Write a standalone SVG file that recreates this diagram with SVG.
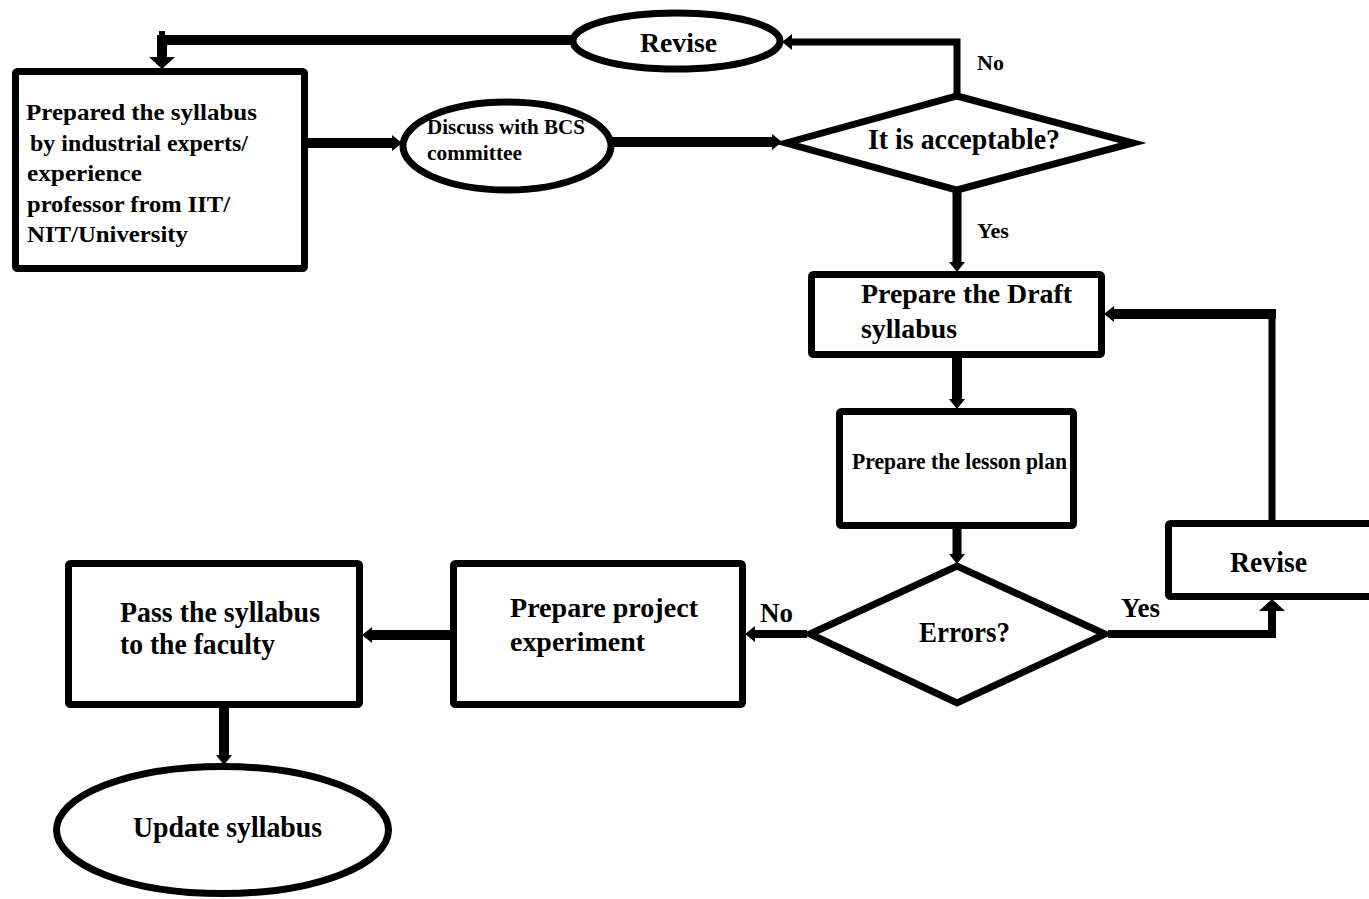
<svg xmlns="http://www.w3.org/2000/svg" width="1369" height="899" viewBox="0 0 1369 899">
<style>
.n{fill:#fff;stroke:#000;stroke-width:7;stroke-linejoin:miter}
.t{font-family:"Liberation Serif","Times New Roman",serif;font-weight:bold;fill:#000}
.c{fill:none;stroke:#000;stroke-linejoin:miter;stroke-linecap:butt}
</style>
<defs>
<marker id="ah" viewBox="0 0 10 16" refX="0" refY="8" markerWidth="10" markerHeight="16" markerUnits="userSpaceOnUse" orient="auto"><path d="M0,0 L10,8 L0,16 z" fill="#000"/></marker>
<marker id="ahb" viewBox="0 0 12 26" refX="0" refY="13" markerWidth="12" markerHeight="26" markerUnits="userSpaceOnUse" orient="auto"><path d="M0,0 L12,13 L0,26 z" fill="#000"/></marker>
</defs>
<rect width="1369" height="899" fill="#fff"/>
<g id="connectors">
<path class="c" d="M308,143 H392" stroke-width="10" marker-end="url(#ah)"/>
<path class="c" d="M611,142 H772" stroke-width="10" marker-end="url(#ah)"/>
<path class="c" d="M957,94 V42 H792" stroke-width="7" marker-end="url(#ah)"/>
<path class="c" d="M572,40 H162 V57" stroke-width="10" marker-end="url(#ahb)"/>
<path class="c" d="M162,31 V40" stroke-width="6"/>
<path class="c" d="M957,192 V262" stroke-width="9" marker-end="url(#ah)"/>
<path class="c" d="M957,358 V399" stroke-width="10" marker-end="url(#ah)"/>
<path class="c" d="M957,529 V554" stroke-width="9" marker-end="url(#ah)"/>
<path class="c" d="M1108,634 H1272 V611" stroke-width="8" marker-end="url(#ahb)"/>
<g id="revise-to-draft">
<path class="c" d="M1272,521 V314" stroke-width="7"/>
<path class="c" d="M1276,314 H1114" stroke-width="10" marker-end="url(#ah)"/>
</g>
<path class="c" d="M807,634 H755" stroke-width="8" marker-end="url(#ah)"/>
<path class="c" d="M450,635 H372" stroke-width="10" marker-end="url(#ah)"/>
<path class="c" d="M224,708 V755" stroke-width="10" marker-end="url(#ah)"/>
<text class="t" x="977" y="70" font-size="22">No</text>
<text class="t" x="977" y="238" font-size="22">Yes</text>
<text class="t" x="760" y="622" font-size="27">No</text>
<text class="t" x="1121" y="617" font-size="27">Yes</text>
</g>
<g id="prepared">
<rect class="n" x="15.5" y="71.5" width="289" height="197" rx="2"/>
<text class="t" font-size="23">
<tspan x="26" y="120" textLength="231" lengthAdjust="spacingAndGlyphs">Prepared the syllabus</tspan>
<tspan x="30" y="151" textLength="218" lengthAdjust="spacingAndGlyphs">by industrial experts/</tspan>
<tspan x="27" y="181" textLength="115" lengthAdjust="spacingAndGlyphs">experience</tspan>
<tspan x="27" y="212" textLength="203" lengthAdjust="spacingAndGlyphs">professor from IIT/</tspan>
<tspan x="27" y="242" textLength="161" lengthAdjust="spacingAndGlyphs">NIT/University</tspan>
</text>
</g>
<g id="discuss">
<ellipse class="n" cx="507" cy="146" rx="104" ry="44" stroke-width="6"/>
<text class="t" font-size="21">
<tspan x="427" y="134" textLength="158" lengthAdjust="spacingAndGlyphs">Discuss with BCS</tspan>
<tspan x="427" y="160" textLength="95" lengthAdjust="spacingAndGlyphs">committee</tspan>
</text>
</g>
<g id="revise-top">
<ellipse class="n" cx="676.5" cy="41" rx="103.5" ry="28" stroke-width="6"/>
<text class="t" x="640" y="52" font-size="27" textLength="77" lengthAdjust="spacingAndGlyphs">Revise</text>
</g>
<g id="acceptable">
<polygon class="n" points="786,143 957,96 1133,143 957,190"/>
<text class="t" x="868" y="149" font-size="29" textLength="192" lengthAdjust="spacingAndGlyphs">It is acceptable?</text>
</g>
<g id="draft">
<rect class="n" x="811.5" y="274.5" width="290" height="80" rx="2"/>
<text class="t" font-size="27">
<tspan x="861" y="303" textLength="211" lengthAdjust="spacingAndGlyphs">Prepare the Draft</tspan>
<tspan x="861" y="338" textLength="96" lengthAdjust="spacingAndGlyphs">syllabus</tspan>
</text>
</g>
<g id="lesson">
<rect class="n" x="839.5" y="411.5" width="234" height="114" rx="2"/>
<text class="t" x="852" y="469" font-size="23" textLength="215" lengthAdjust="spacingAndGlyphs">Prepare the lesson plan</text>
</g>
<g id="errors">
<polygon class="n" points="810,634 957,566 1105,634 957,703"/>
<text class="t" x="919" y="642" font-size="29" textLength="91" lengthAdjust="spacingAndGlyphs">Errors?</text>
</g>
<g id="revise-box">
<rect class="n" x="1168.5" y="523.5" width="215" height="73" rx="2"/>
<text class="t" x="1230" y="572" font-size="29" textLength="77" lengthAdjust="spacingAndGlyphs">Revise</text>
</g>
<g id="project">
<rect class="n" x="453.5" y="563.5" width="289" height="141" rx="2"/>
<text class="t" font-size="28">
<tspan x="510" y="617" textLength="188" lengthAdjust="spacingAndGlyphs">Prepare project</tspan>
<tspan x="510" y="651" textLength="135" lengthAdjust="spacingAndGlyphs">experiment</tspan>
</text>
</g>
<g id="pass">
<rect class="n" x="68.5" y="563.5" width="291" height="141" rx="2"/>
<text class="t" font-size="30">
<tspan x="120" y="622" textLength="200" lengthAdjust="spacingAndGlyphs">Pass the syllabus</tspan>
<tspan x="120" y="654" textLength="155" lengthAdjust="spacingAndGlyphs">to the faculty</tspan>
</text>
</g>
<g id="update">
<ellipse class="n" cx="222.5" cy="830" rx="166" ry="63.5"/>
<text class="t" x="133" y="837" font-size="30" textLength="189" lengthAdjust="spacingAndGlyphs">Update syllabus</text>
</g>
</svg>
